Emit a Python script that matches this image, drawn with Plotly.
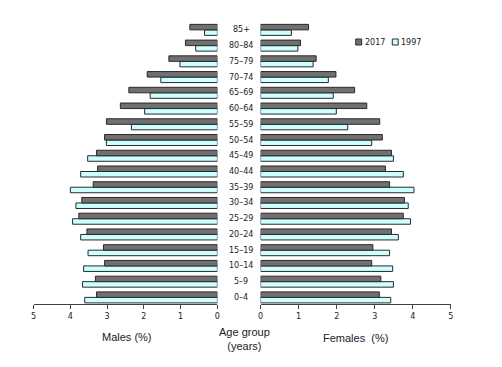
import plotly.graph_objects as go

age_groups = ["0–4", "5–9", "10–14", "15–19", "20–24", "25–29", "30–34", "35–39",
              "40–44", "45–49", "50–54", "55–59", "60–64", "65–69", "70–74",
              "75–79", "80–84", "85+"]

males_2017 = [3.29, 3.32, 3.07, 3.10, 3.55, 3.77, 3.69, 3.38, 3.26, 3.29,
              3.07, 3.02, 2.64, 2.41, 1.91, 1.32, 0.87, 0.75]
males_1997 = [3.61, 3.67, 3.64, 3.52, 3.72, 3.94, 3.85, 4.00, 3.72, 3.53,
              3.02, 2.34, 1.98, 1.83, 1.54, 1.02, 0.59, 0.35]
females_2017 = [3.12, 3.16, 2.92, 2.95, 3.44, 3.75, 3.78, 3.39, 3.28, 3.44,
                3.20, 3.13, 2.79, 2.47, 1.98, 1.46, 1.05, 1.26]
females_1997 = [3.42, 3.49, 3.47, 3.39, 3.62, 3.94, 3.88, 4.03, 3.75, 3.49,
                2.92, 2.29, 1.99, 1.91, 1.78, 1.38, 0.98, 0.81]

series_names = ["2017", "1997"]
ticks = [0, 1, 2, 3, 4, 5]

C2017 = "#707070"
C1997 = "#CCFFFF"
EDGE = "#2a2a2a"

W, H = 502, 367
MT, MB = 22, 63


def py(pix):
    """convert a pixel row of the page into paper y (plot-area relative)"""
    return (H - MB - pix) / (H - MT - MB)


fig = go.Figure()

# 1997 first so it sits below 2017 in each group
for vals, xa in [(males_1997, "x"), (females_1997, "x2")]:
    fig.add_trace(go.Bar(y=age_groups, x=vals, orientation="h", xaxis=xa, yaxis="y",
                         name="1997", marker=dict(color=C1997, line=dict(color=EDGE, width=1)),
                         showlegend=False))
for vals, xa in [(males_2017, "x"), (females_2017, "x2")]:
    fig.add_trace(go.Bar(y=age_groups, x=vals, orientation="h", xaxis=xa, yaxis="y",
                         name="2017", marker=dict(color=C2017, line=dict(color=EDGE, width=1)),
                         showlegend=False))

axis_common = dict(tickvals=ticks, ticktext=[str(t) for t in ticks],
                   showgrid=False, zeroline=False, showline=True, linecolor="#404040",
                   linewidth=1, ticks="outside", ticklen=4, tickcolor="#404040",
                   tickfont=dict(family="DejaVu Sans", size=8, color="#222222"),
                   fixedrange=True)

xm = dict(axis_common); xm.update(range=[5, 0], domain=[31 / W, 217 / W], anchor="y")
xf = dict(axis_common); xf.update(range=[0, 5], domain=[260.7 / W, 453.3 / W], anchor="y")

fig.update_layout(
    width=W, height=H,
    margin=dict(l=0, r=0, t=MT, b=MB),
    paper_bgcolor="white", plot_bgcolor="white",
    barmode="group", bargap=0.3, bargroupgap=0,
    xaxis=xm, xaxis2=xf,
    yaxis=dict(type="category", categoryorder="array", categoryarray=age_groups,
               range=[-0.42, 17.5], showticklabels=False, showgrid=False,
               zeroline=False, showline=False, ticks="", fixedrange=True),
    showlegend=False,
)

annotations = []
# age group labels in the middle
for g in age_groups:
    annotations.append(dict(x=241 / W, xref="paper", y=g, yref="y", text=g,
                            showarrow=False, xanchor="center", yanchor="middle",
                            font=dict(family="DejaVu Sans", size=8, color="#222222")))

title_font = dict(family="Liberation Sans, Arial", size=11, color="#222222")
annotations += [
    dict(x=126 / W, y=py(337), xref="paper", yref="paper", text="Males (%)",
         showarrow=False, xanchor="center", yanchor="middle", font=title_font),
    dict(x=357 / W, y=py(338), xref="paper", yref="paper", text="Females  (%)",
         showarrow=False, xanchor="center", yanchor="middle", font=title_font),
    dict(x=244 / W, y=py(339), xref="paper", yref="paper", text="Age group<br>(years)",
         showarrow=False, xanchor="center", yanchor="middle", font=title_font),
]

# legend
leg_font = dict(family="DejaVu Sans", size=8, color="#222222")
legend_items = [(series_names[0], C2017, 357), (series_names[1], C1997, 394)]
shapes = []
for name, col, px in legend_items:
    yc = 42
    shapes.append(dict(type="rect", xref="paper", yref="paper",
                       x0=px / W, x1=(px + 6) / W,
                       y0=py(yc + 3), y1=py(yc - 3),
                       fillcolor=col, line=dict(color=EDGE, width=1)))
    annotations.append(dict(x=(px + 7) / W, y=py(yc), xref="paper", yref="paper",
                            text=name, showarrow=False, xanchor="left", yanchor="middle",
                            font=leg_font))

fig.update_layout(annotations=annotations, shapes=shapes)
fig.write_html("out.html", config={"displayModeBar": False})

# remove default page margin so the figure sits at the window's top-left
with open("out.html", "r", encoding="utf-8") as f:
    html = f.read()
html = html.replace("<head>", "<head><style>html,body{margin:0;padding:0;}</style>", 1)
with open("out.html", "w", encoding="utf-8") as f:
    f.write(html)
